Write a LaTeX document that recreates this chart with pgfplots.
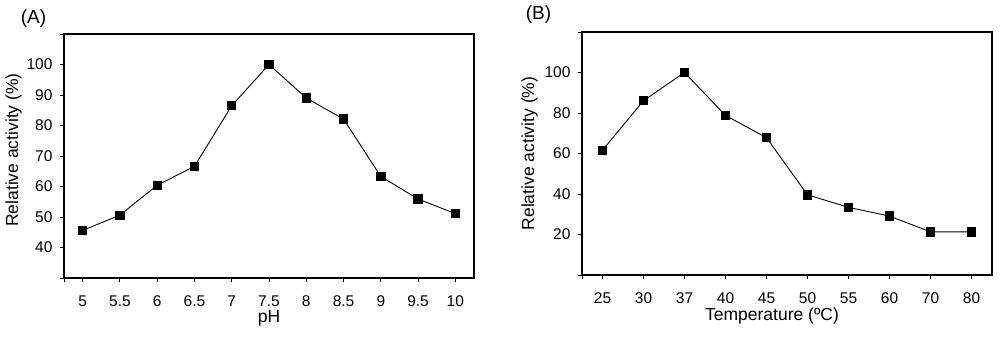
\documentclass[border=0pt]{standalone}
\usepackage{pgfplots}
\pgfplotsset{compat=1.18}
\usepackage{fontspec}
\setmainfont{Liberation Sans}
\begin{document}
\begin{tikzpicture}
\path (0pt,0pt) rectangle (1000pt,342pt);
\pgfplotsset{
  every axis/.append style={
    scale only axis,
    font=\fontsize{15.5pt}{17pt}\selectfont,
    axis line style={line width=1.2pt},
    tick style={line width=0.9pt,black},
    major tick length=4pt,
    tick align=outside,
    xtick pos=bottom, ytick pos=left,
    tick label style={font=\fontsize{15.5pt}{17pt}\selectfont},
    label style={font=\fontsize{17.5pt}{20pt}\selectfont},
    xticklabel style={yshift=-10pt},
    yticklabel style={xshift=-4pt},
    every axis plot post/.append style={black, line width=0.9pt, mark=square*, mark size=4.2pt, mark options={solid,fill=black}},
  }
}
\begin{axis}[at={(64pt,64pt)}, anchor=south west, width=410pt, height=244pt,
  xmin=-0.5, xmax=10.5, ymin=30, ymax=110,
  xtick={-0.5,0,1,2,3,4,5,6,7,8,9,10},
  xticklabels={,5,5.5,6,6.5,7,7.5,8,8.5,9,9.5,10},
  ytick={30,40,50,60,70,80,90,100,110},
  yticklabels={,40,50,60,70,80,90,100,},
  xlabel={pH}, ylabel={Relative activity (\%)},
  xlabel style={yshift=3pt},
  ylabel style={yshift=-2pt,xshift=6pt}]
\addplot coordinates {(0,45.6) (1,50.6) (2,60.4) (3,66.6) (4,86.5) (5,100) (6,89) (7,82.1) (8,63.3) (9,55.9) (10,51.1)};
\end{axis}
\node[font=\fontsize{19pt}{21pt}\selectfont] at (33.5pt,323.5pt) {(A)};
\begin{axis}[at={(582pt,67pt)}, anchor=south west, width=410pt, height=243pt,
  xmin=-0.5, xmax=9.5, ymin=0, ymax=120,
  xtick={-0.5,0,1,2,3,4,5,6,7,8,9},
  xticklabels={,25,30,37,40,45,50,55,60,70,80},
  ytick={0,20,40,60,80,100,120},
  yticklabels={,20,40,60,80,100,},
  xlabel={Temperature (ºC)}, ylabel={Relative activity (\%)},
  xlabel style={yshift=3pt,xshift=-15pt},
  ylabel style={yshift=0pt}]
\addplot coordinates {(0,61.6) (1,86.1) (2,100) (3,78.8) (4,67.8) (5,39.6) (6,33.4) (7,29.1) (8,21.3) (9,21.3)};
\end{axis}
\node[font=\fontsize{19pt}{21pt}\selectfont] at (538.5pt,327pt) {(B)};
\end{tikzpicture}
\end{document}
